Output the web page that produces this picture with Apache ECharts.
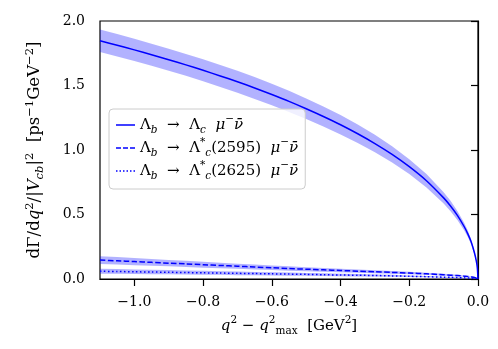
<!DOCTYPE html>
<html>
<head>
<meta charset="utf-8">
<script src="https://cdn.jsdelivr.net/npm/echarts@6/dist/echarts.min.js"></script>
<style>html,body{margin:0;padding:0;background:#fff}#c{width:498px;height:349px}</style>
</head>
<body>
<div id="c"></div>
<script>
// x: q^2 - q^2_max [GeV^2]
const xs = [-1.1, -1.05, -1.0, -0.95, -0.9, -0.85, -0.8, -0.75, -0.7, -0.65, -0.6, -0.55, -0.5, -0.45, -0.4, -0.35, -0.3, -0.25, -0.2, -0.15, -0.1, -0.08, -0.06, -0.04, -0.03, -0.02, -0.01, -0.005, -0.002, 0];
// Lambda_b -> Lambda_c mu nu
const mainCentral = [1.847, 1.812, 1.776, 1.739, 1.700, 1.660, 1.618, 1.574, 1.529, 1.481, 1.430, 1.377, 1.320, 1.260, 1.196, 1.126, 1.050, 0.966, 0.871, 0.762, 0.629, 0.566, 0.493, 0.405, 0.352, 0.289, 0.200, 0.140, 0.088, 0];
const mainUpper   = [1.935, 1.899, 1.862, 1.824, 1.785, 1.745, 1.703, 1.659, 1.614, 1.566, 1.514, 1.459, 1.400, 1.338, 1.271, 1.198, 1.118, 1.029, 0.929, 0.814, 0.673, 0.606, 0.528, 0.434, 0.377, 0.309, 0.214, 0.150, 0.094, 0];
const mainLower   = [1.759, 1.725, 1.690, 1.654, 1.615, 1.575, 1.533, 1.489, 1.444, 1.396, 1.346, 1.295, 1.240, 1.182, 1.121, 1.054, 0.982, 0.903, 0.813, 0.710, 0.585, 0.526, 0.458, 0.376, 0.327, 0.269, 0.186, 0.130, 0.082, 0];
// Lambda_b -> Lambda_c*(2595) mu nu
const c2595Central = [0.147, 0.141, 0.135, 0.129, 0.123, 0.117, 0.111, 0.105, 0.099, 0.093, 0.087, 0.081, 0.076, 0.071, 0.066, 0.061, 0.056, 0.051, 0.046, 0.040, 0.033, 0.030, 0.027, 0.022, 0.020, 0.016, 0.012, 0.008, 0.005, 0];
const c2595Upper   = [0.177, 0.170, 0.163, 0.155, 0.148, 0.141, 0.134, 0.126, 0.119, 0.112, 0.105, 0.098, 0.092, 0.086, 0.080, 0.074, 0.068, 0.062, 0.056, 0.048, 0.040, 0.036, 0.033, 0.027, 0.024, 0.019, 0.014, 0.010, 0.006, 0];
const c2595Lower   = [0.117, 0.112, 0.107, 0.103, 0.098, 0.093, 0.088, 0.084, 0.079, 0.074, 0.069, 0.064, 0.060, 0.056, 0.052, 0.048, 0.044, 0.040, 0.036, 0.032, 0.026, 0.024, 0.021, 0.017, 0.016, 0.013, 0.010, 0.006, 0.004, 0];
// Lambda_b -> Lambda_c*(2625) mu nu
const c2625Central = [0.060, 0.058, 0.056, 0.054, 0.052, 0.050, 0.048, 0.046, 0.044, 0.042, 0.040, 0.038, 0.036, 0.033, 0.031, 0.029, 0.027, 0.024, 0.021, 0.018, 0.014, 0.013, 0.011, 0.009, 0.008, 0.006, 0.004, 0.003, 0.002, 0];
const c2625Upper   = [0.080, 0.077, 0.074, 0.072, 0.069, 0.066, 0.063, 0.061, 0.058, 0.055, 0.053, 0.050, 0.047, 0.044, 0.041, 0.038, 0.035, 0.032, 0.028, 0.024, 0.018, 0.017, 0.014, 0.012, 0.010, 0.008, 0.005, 0.004, 0.003, 0];
const c2625Lower   = [0.041, 0.040, 0.038, 0.037, 0.036, 0.034, 0.033, 0.032, 0.030, 0.029, 0.028, 0.026, 0.025, 0.023, 0.021, 0.020, 0.019, 0.017, 0.015, 0.013, 0.010, 0.009, 0.008, 0.006, 0.006, 0.004, 0.003, 0.002, 0.001, 0];

const xTicks = [-1.0, -0.8, -0.6, -0.4, -0.2, 0.0];
const seriesNames = ['main', 'p2595', 'p2625'];
const legendLabels = {
  main:  '{n|Λ}{subi|b}{n|  →  Λ}{subi|c}{i|  μ}{sup|−}{i|ν̄}',
  p2595: '{n|Λ}{subi|b}{n|  →  Λ}{sup|*}{subi|c}{n|(2595)  }{i|μ}{sup|−}{i|ν̄}',
  p2625: '{n|Λ}{subi|b}{n|  →  Λ}{sup|*}{subi|c}{n|(2625)  }{i|μ}{sup|−}{i|ν̄}'
};
const yName = '{n|dΓ/d}{i|q}{sup|2}{n|/|}{i|V}{subi|cb}{n||}{sup|2}{n|  [ps}{sup|−1}{n|GeV}{sup|−2}{n|]}';
const xName = '{i|q}{sup|2}{n| − }{i|q}{sup|2}{sub|max}{n|  [GeV}{sup|2}{n|]}';

const FF = '"DejaVu Serif", "Liberation Serif", serif';
function makeRich(fs, sfs) {
  return {
    n:    {fontFamily: FF, fontSize: fs, lineHeight: 22, color: '#000'},
    i:    {fontFamily: FF, fontSize: fs, lineHeight: 22, fontStyle: 'italic', color: '#000'},
    sup:  {fontFamily: FF, fontSize: sfs, lineHeight: 13, verticalAlign: 'top', color: '#000'},
    sub:  {fontFamily: FF, fontSize: sfs, lineHeight: 14, verticalAlign: 'bottom', color: '#000'},
    subi: {fontFamily: FF, fontSize: sfs, lineHeight: 14, verticalAlign: 'bottom', fontStyle: 'italic', color: '#000'}
  };
}
const richXName = makeRich(15, 10.5);
const richYName = makeRich(16.5, 11.5);
const richLegend = makeRich(15, 10.5);

const pairs = (ys) => xs.map((x, i) => [x, ys[i]]);
const BAND = 'rgba(0,0,255,0.3)';
const BLUE = '#0000ff';

function band(up, lo) {
  return {
    type: 'custom', coordinateSystem: 'cartesian2d', silent: true, clip: true, z: 1,
    data: [[xs[0], up[0]]],
    renderItem: (params, api) => {
      const top = xs.map((x, i) => api.coord([x, up[i]]));
      const bot = xs.map((x, i) => api.coord([x, lo[i]])).reverse();
      return {type: 'polygon', shape: {points: top.concat(bot)}, style: {fill: BAND, stroke: null}};
    }
  };
}

const legendIcons = {
  main: 'path://M0,0H19V1.5H0Z',
  p2595: 'path://M0,0H5V1.5H0ZM7,0H12V1.5H7ZM14,0H19V1.5H14Z',
  p2625: 'path://M0,0H1.5V1.5H0ZM3.5,0H5V1.5H3.5ZM7,0H8.5V1.5H7ZM10.5,0H12V1.5H10.5ZM14,0H15.5V1.5H14ZM17.5,0H19V1.5H17.5Z'
};

const chart = echarts.init(document.getElementById('c'), null, {renderer: 'canvas'});
chart.setOption({
  animation: false,
  backgroundColor: '#fff',
  grid: {left: 100, right: 20, top: 21, bottom: 70, show: true, borderColor: '#000', borderWidth: 1.2, backgroundColor: 'transparent'},
  legend: {
    data: seriesNames.map(n => ({name: n, icon: legendIcons[n]})),
    orient: 'vertical',
    left: 109, top: 109,
    padding: [5, 7, 7, 7],
    itemGap: 1,
    itemWidth: 19, itemHeight: 1.5,
    backgroundColor: 'rgba(255,255,255,0.8)',
    borderColor: '#cccccc', borderWidth: 1, borderRadius: 4,
    formatter: (name) => legendLabels[name],
    textStyle: {rich: richLegend, fontFamily: FF, fontSize: 15},
    z: 10
  },
  xAxis: {
    type: 'value', min: -1.1, max: 0,
    name: xName, nameLocation: 'middle', nameGap: 36,
    nameTextStyle: {rich: richXName},
    axisLine: {onZero: false, lineStyle: {color: '#000', width: 1.2}},
    axisTick: {show: true, length: 7, customValues: xTicks, lineStyle: {color: '#000', width: 1.2}},
    axisLabel: {customValues: xTicks, margin: 16, fontFamily: FF, fontSize: 14, color: '#000',
      formatter: (v) => (v < 0 ? '−' : '') + Math.abs(v).toFixed(1)},
    splitLine: {show: false}
  },
  yAxis: {
    type: 'value', min: 0, max: 2, interval: 0.5,
    name: yName, nameLocation: 'middle', nameGap: 54, nameRotate: 90,
    nameTextStyle: {rich: richYName},
    axisLine: {show: true, lineStyle: {color: '#000', width: 1.2}},
    axisTick: {show: true, length: 7, lineStyle: {color: '#000', width: 1.2}},
    axisLabel: {margin: 15, fontFamily: FF, fontSize: 14, color: '#000',
      formatter: (v) => v.toFixed(1)},
    splitLine: {show: false}
  },
  series: [
    band(mainUpper, mainLower),
    band(c2595Upper, c2595Lower),
    band(c2625Upper, c2625Lower),
    {name: 'main', type: 'line', data: pairs(mainCentral), symbol: 'none', smooth: 0.25, color: BLUE,
      lineStyle: {color: BLUE, width: 1.5, type: 'solid'}, z: 3},
    {name: 'p2595', type: 'line', data: pairs(c2595Central), symbol: 'none', smooth: 0.25, color: BLUE,
      lineStyle: {color: BLUE, width: 1.5, type: [5.5, 2.4]}, z: 3},
    {name: 'p2625', type: 'line', data: pairs(c2625Central), symbol: 'none', smooth: 0.25, color: BLUE,
      lineStyle: {color: BLUE, width: 1.5, type: [1.5, 2.5]}, z: 3}
  ]
});
</script>
</body>
</html>
